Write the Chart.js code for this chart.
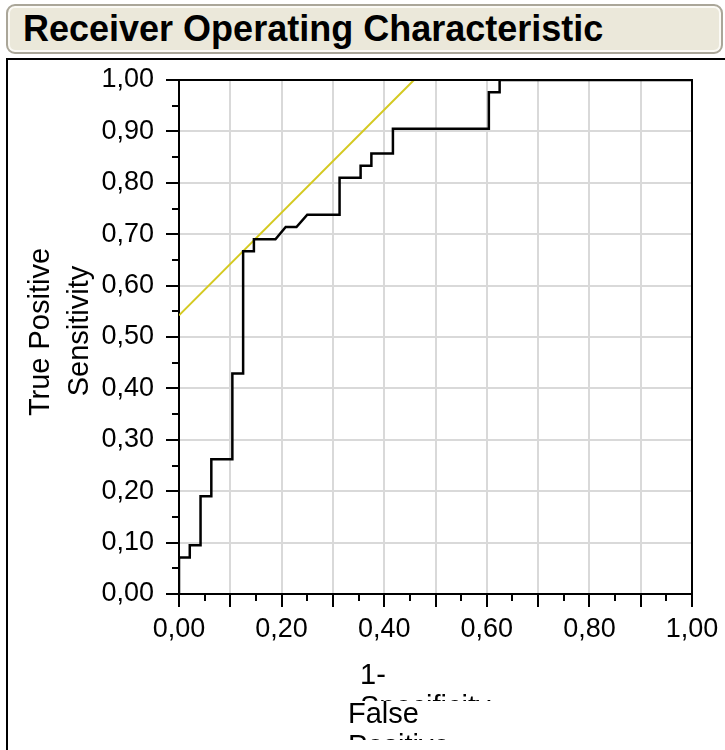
<!DOCTYPE html>
<html>
<head>
<meta charset="utf-8">
<script src="https://cdn.jsdelivr.net/npm/chart.js@4.4.1/dist/chart.umd.min.js"></script>
<style>
  html, body { margin:0; padding:0; background:#fff; }
  #wrap { position:relative; width:725px; height:750px; overflow:hidden; font-family:"Liberation Sans", Arial, sans-serif; }
  #c { position:absolute; left:0; top:0; }
  #titlebox { position:absolute; left:6px; top:4px; width:713px; height:46px; border:2px solid #aaa699; border-radius:9px;
    background:#ebe8da; box-shadow: inset 0 0 0 2px #fbfaf5; }
  #titletext { position:absolute; left:15px; top:3px; font-weight:bold; font-size:36px; line-height:40px; color:#000; white-space:nowrap; }
  #frame { position:absolute; left:6px; top:58px; width:800px; height:800px; border:2px solid #000; box-sizing:border-box; }
  .yt { position:absolute; font-size:29px; line-height:29px; white-space:nowrap; color:#000; transform:translate(-50%,-50%) rotate(-90deg); }
  .xt { position:absolute; font-size:29px; line-height:32px; white-space:nowrap; color:#000; overflow:hidden; }
</style>
</head>
<body>
<div id="wrap">
  <div id="frame"></div>
  <canvas id="c" width="725" height="750"></canvas>
  <div id="titlebox"><div id="titletext">Receiver Operating Characteristic</div></div>
  <div class="yt" style="left:39px; top:332px;">True Positive</div>
  <div class="yt" style="left:78px; top:331px;">Sensitivity</div>
  <div class="xt" style="left:360px; top:658px; height:43px; width:150px;">1-<br>Specificity</div>
  <div class="xt" style="left:348px; top:697px; height:43px; width:150px;">False<br>Positive</div>
</div>
<script>
// ROC curve vertices (1 - specificity, sensitivity)
const rocFpr = [0, 0, 0.021, 0.021, 0.042, 0.042, 0.063, 0.063, 0.104, 0.104, 0.125, 0.125, 0.146, 0.146, 0.188, 0.208, 0.229, 0.250, 0.313, 0.313, 0.354, 0.354, 0.375, 0.375, 0.417, 0.417, 0.604, 0.604, 0.625, 0.625, 1.0];
const rocTpr = [0, 0.071, 0.071, 0.095, 0.095, 0.190, 0.190, 0.262, 0.262, 0.429, 0.429, 0.667, 0.667, 0.690, 0.690, 0.714, 0.714, 0.738, 0.738, 0.810, 0.810, 0.833, 0.833, 0.857, 0.857, 0.905, 0.905, 0.976, 0.976, 1.0, 1.0];
// reference (tangent) line
const refX = [0, 0.458];
const refY = [0.542, 1.0];
// axis tick settings
const axisMin = 0, axisMax = 1, tickStep = 0.05;
const xLabelStep = 0.2, yLabelStep = 0.1;

const FONT = '"Liberation Sans", Arial, sans-serif';
const isMajor = v => Math.round(v * 100) % 10 === 0;
const fmtEvery = step => v => (Math.round(v * 100) % Math.round(step * 100) === 0) ? (Math.round(v * 100) / 100).toFixed(2).replace('.', ',') : '';
const gridColor = c => {
  const k = Math.round((c.tick ? c.tick.value : 0) * 100);
  return (k % 10 === 0 && k > 0 && k < 100) ? '#d9d9d9' : 'rgba(0,0,0,0)';
};

const framePlugin = {
  id: 'framePlugin',
  afterDraw(chart) {
    const { ctx, chartArea: a, scales } = chart;
    ctx.save();
    ctx.strokeStyle = '#000';
    ctx.lineWidth = 2;
    ctx.beginPath();
    ctx.moveTo(a.left, a.top); ctx.lineTo(a.right, a.top); ctx.lineTo(a.right, a.bottom);
    ctx.stroke();
    ctx.beginPath();
    scales.x.ticks.forEach(t => {
      const px = Math.round(scales.x.getPixelForValue(t.value));
      const len = isMajor(t.value) ? 13 : 7;
      ctx.moveTo(px, a.bottom); ctx.lineTo(px, a.bottom + len);
    });
    scales.y.ticks.forEach(t => {
      const py = Math.round(scales.y.getPixelForValue(t.value));
      const len = isMajor(t.value) ? 13 : 7;
      ctx.moveTo(a.left, py); ctx.lineTo(a.left - len, py);
    });
    ctx.stroke();
    ctx.restore();
  }
};

new Chart(document.getElementById('c'), {
  type: 'scatter',
  data: {
    datasets: [
      { data: rocFpr.map((x, i) => ({ x, y: rocTpr[i] })), showLine: true, borderColor: '#000', borderWidth: 2.5, pointRadius: 0, tension: 0, fill: false },
      { data: refX.map((x, i) => ({ x, y: refY[i] })), showLine: true, borderColor: '#d4c920', borderWidth: 2, pointRadius: 0, tension: 0, fill: false }
    ]
  },
  options: {
    responsive: false,
    animation: false,
    layout: { padding: { left: 0, top: 80, right: 33, bottom: 0 } },
    plugins: { legend: { display: false }, tooltip: { enabled: false } },
    scales: {
      x: {
        type: 'linear', min: axisMin, max: axisMax,
        afterFit(s) { s.height = 156; },
        ticks: { stepSize: tickStep, autoSkip: false, maxRotation: 0, minRotation: 0, padding: 6, color: '#000', font: { family: FONT, size: 27 }, callback: fmtEvery(xLabelStep) },
        grid: { color: gridColor, lineWidth: 2, drawTicks: true, tickLength: 13, tickColor: 'rgba(0,0,0,0)' },
        border: { color: '#000', width: 2 }
      },
      y: {
        type: 'linear', min: axisMin, max: axisMax,
        afterFit(s) { s.width = 179; },
        ticks: { stepSize: tickStep, autoSkip: false, padding: 12, color: '#000', font: { family: FONT, size: 27 }, callback: fmtEvery(yLabelStep) },
        grid: { color: gridColor, lineWidth: 2, drawTicks: true, tickLength: 13, tickColor: 'rgba(0,0,0,0)' },
        border: { color: '#000', width: 2 }
      }
    }
  },
  plugins: [framePlugin]
});
</script>
</body>
</html>
